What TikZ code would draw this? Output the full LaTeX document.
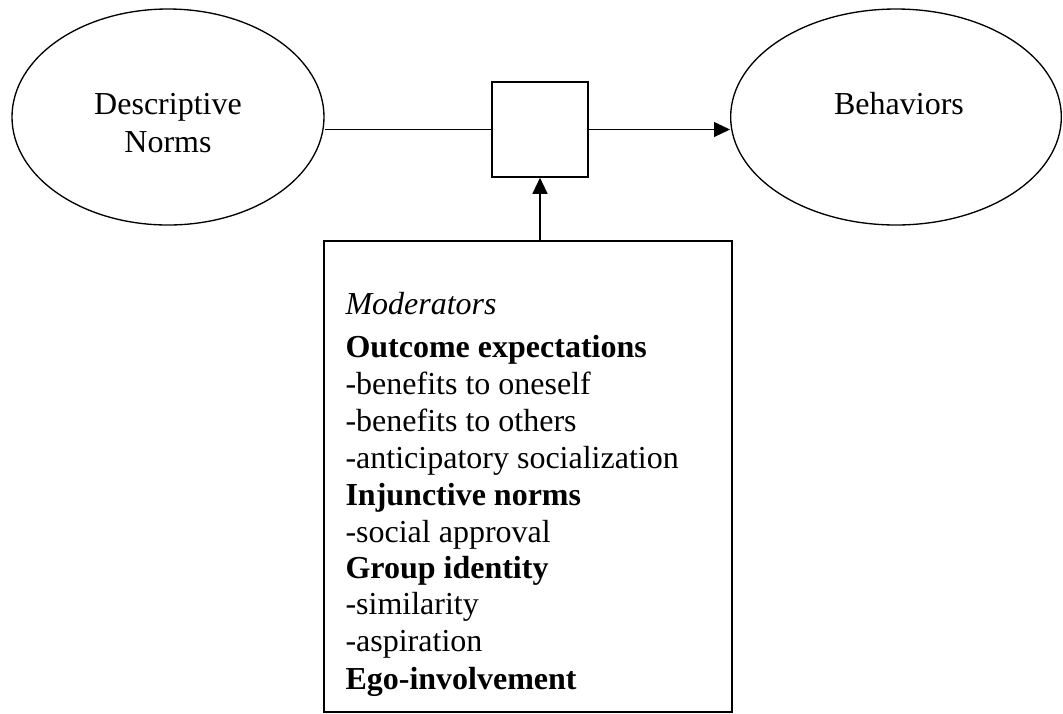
\documentclass[tikz,border=0pt]{standalone}
\usepackage{fontspec}
\setmainfont{Liberation Serif}
\usetikzlibrary{shapes.geometric,arrows.meta}
\tikzset{
  ell/.style={draw, ellipse, line width=0.5pt, inner sep=0pt, minimum height=81pt},
  sqbox/.style={draw, rectangle, line width=0.6pt, inner sep=0pt, minimum width=36pt, minimum height=35.6pt},
  modbox/.style={draw, rectangle, line width=0.6pt, inner sep=0pt, minimum width=153pt, minimum height=176.6pt},
  lbl/.style={inner sep=0pt, anchor=base, font=\fontsize{12pt}{13.9pt}\selectfont},
  item/.style={inner sep=0pt, anchor=base west, font=\fontsize{12pt}{13.9pt}\selectfont},
  conn/.style={line width=0.5pt},
  arr/.style={conn, -{Triangle[length=6pt, width=5.6pt]}}
}
\begin{document}
\begin{tikzpicture}[x=0.375pt, y=-0.375pt]
\useasboundingbox (0,0) rectangle (1063,713);
% shapes
\node[ell, minimum width=117pt] (dn) at (168,117) {};
\node[ell, minimum width=124pt] (bh) at (896,117) {};
\node[sqbox] (sq) at (540,129.5) {};
\node[modbox] (mb) at (528,476.5) {};
% ellipse labels
\node[lbl] (dn1) at (168,114) {Descriptive};
\node[lbl] (dn2) at (168,152) {Norms};
\node[lbl] (bh1) at (899,114) {Behaviors};
% moderator list
\node[item] (m0) at (345,314) {\itshape Moderators};
\node[item] (m1) at (345,357) {\bfseries Outcome expectations};
\node[item] (m2) at (345,394) {-benefits to oneself};
\node[item] (m3) at (345,431) {-benefits to others};
\node[item] (m4) at (345,468) {-anticipatory socialization};
\node[item] (m5) at (345,505) {\bfseries Injunctive norms};
\node[item] (m6) at (345,542) {-social approval};
\node[item] (m7) at (345,578) {\bfseries Group identity};
\node[item] (m8) at (345,614) {-similarity};
\node[item] (m9) at (345,651) {-aspiration};
\node[item] (m10) at (345,689) {\bfseries Ego-involvement};
% connectors
\draw[conn] (sq.west -| dn.east) -- (sq.west);
\draw[arr] (sq.east) -- (sq.east -| bh.west);
\draw[arr] (sq.south |- mb.north) -- (sq.south);
\end{tikzpicture}
\end{document}
